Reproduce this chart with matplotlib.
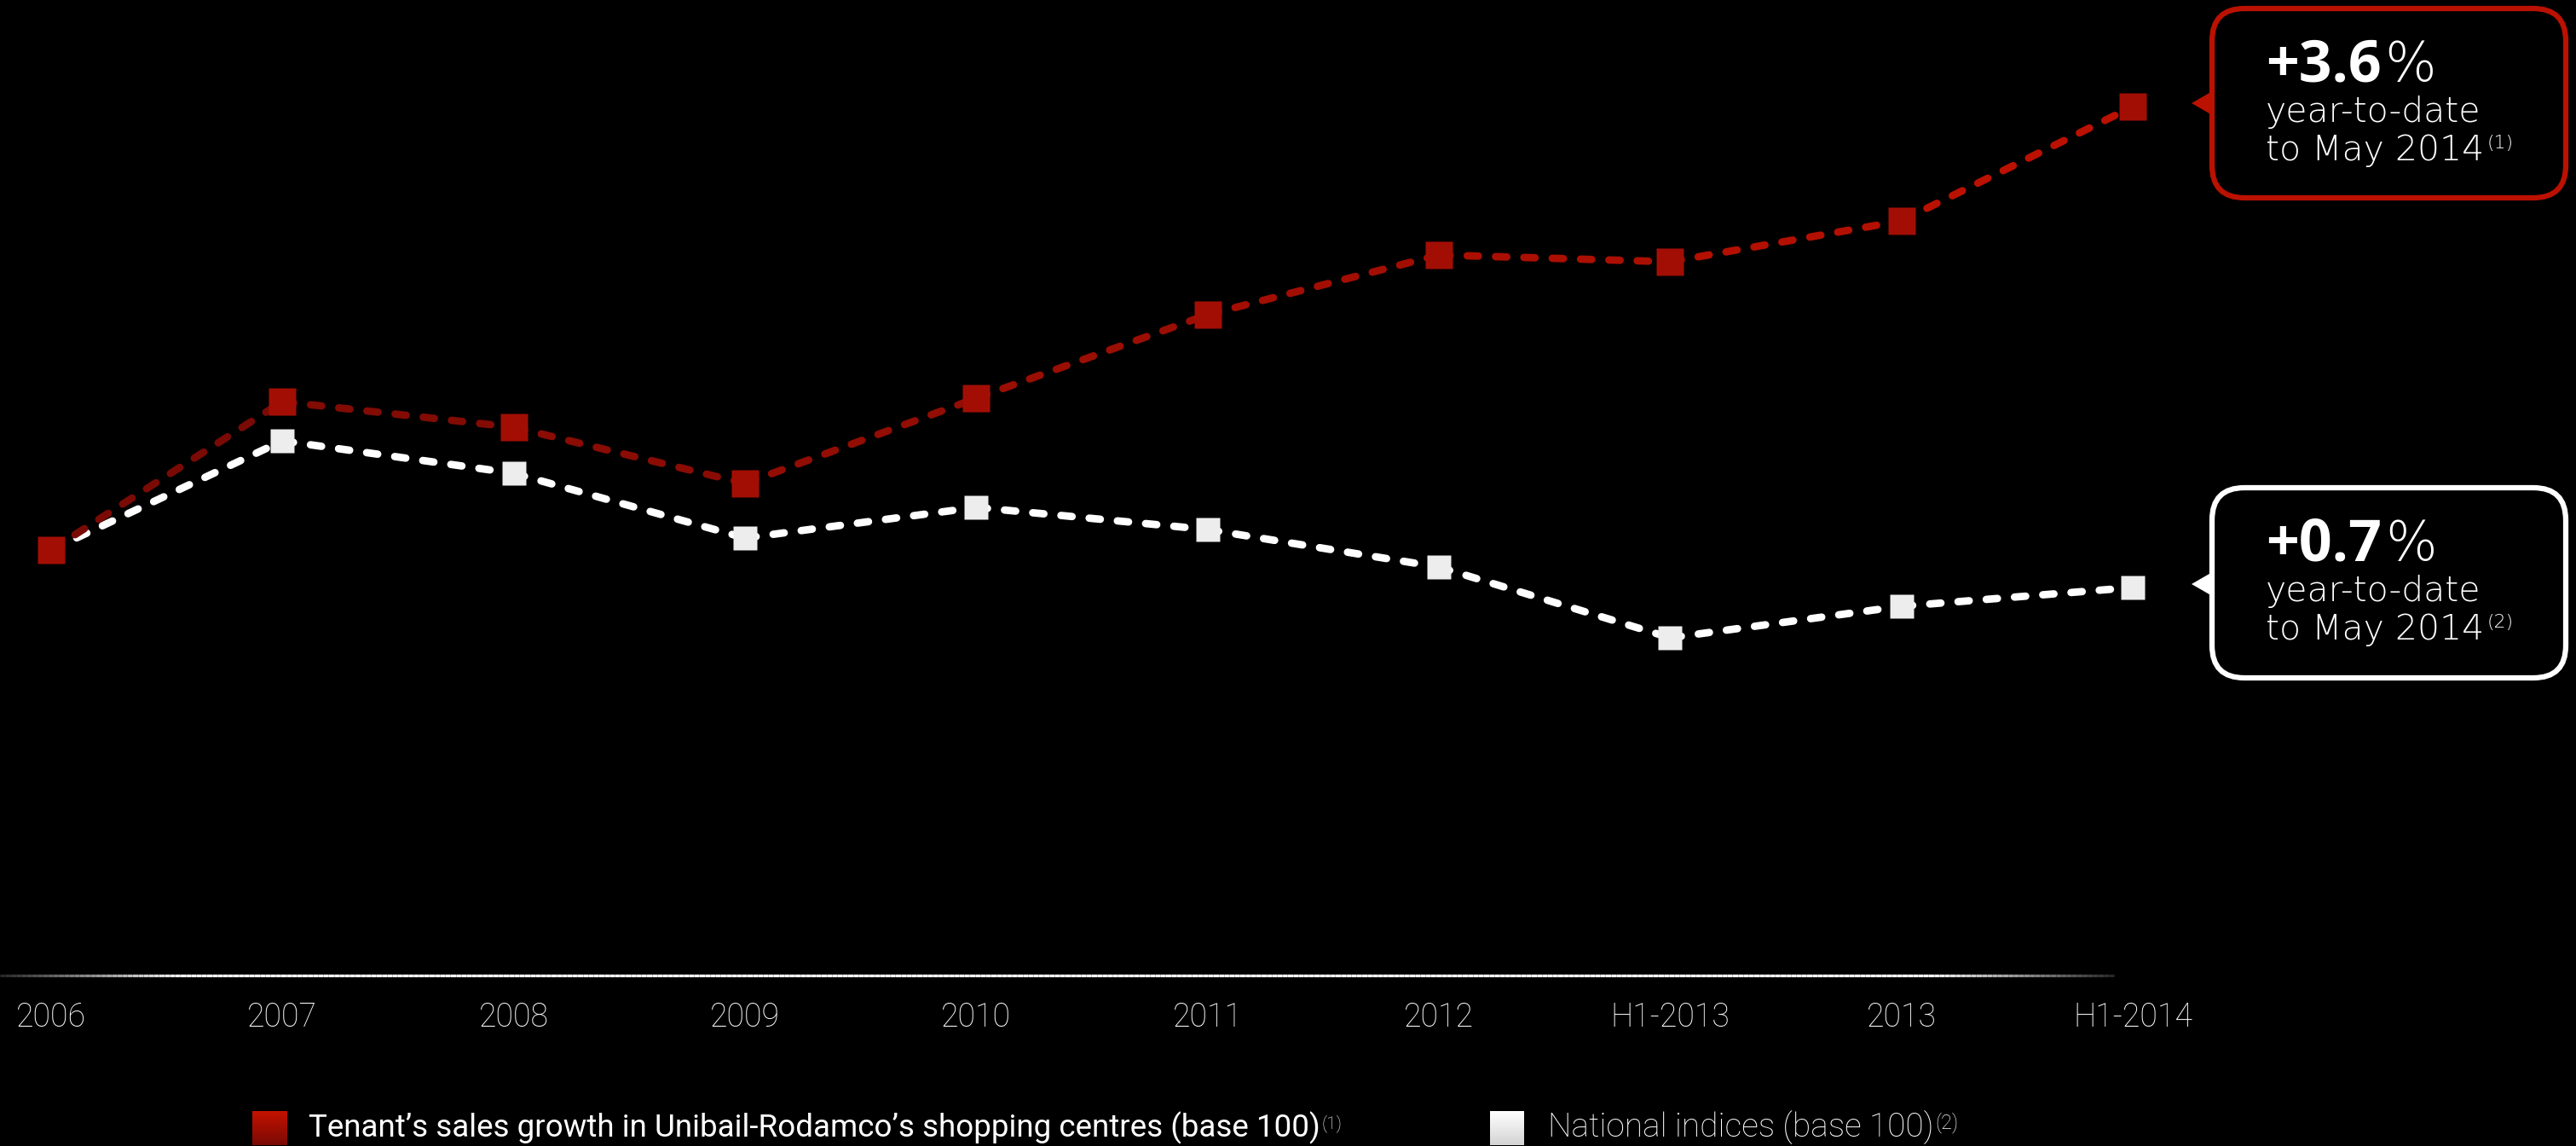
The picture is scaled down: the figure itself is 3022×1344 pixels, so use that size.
import numpy as np
import matplotlib.pyplot as plt
import matplotlib.transforms as mtransforms
from matplotlib.collections import LineCollection
from matplotlib.patches import FancyBboxPatch, Polygon
from matplotlib.colors import to_rgb
from matplotlib import font_manager

W, H = 3022, 1344

periods = ["2006", "2007", "2008", "2009", "2010", "2011", "2012",
           "H1-2013", "2013", "H1-2014"]
tenant_sales = [100.0, 108.7, 107.2, 103.9, 108.9, 113.8, 117.3, 116.9, 119.3, 126.0]
national_idx = [100.0, 106.4, 104.5, 100.7, 102.5, 101.2, 99.0, 94.85, 96.7, 97.8]
ytd_values = ["+3.6", "+0.7"]
ytd_notes = ["(1)", "(2)"]
legend_labels = ["Tenant\u2019s sales growth in Unibail-Rodamco\u2019s shopping centres (base 100)",
                 "National indices (base 100)"]

RED_DARK = "#7A0A05"
RED = "#BB1100"
THIN = ["Roboto", "DejaVu Sans"]

print(sorted({(f.name, f.weight, f.stretch) for f in font_manager.fontManager.ttflist
              if "DejaVu" in f.name or "Open" in f.name or "Liberation" in f.name}))

fig = plt.figure(figsize=(W / 100, H / 100), dpi=100, facecolor="black")
ax = fig.add_axes([0, 200 / H, 1, 1144 / H])
ax.set_facecolor("black")
for s in ax.spines.values():
    s.set_visible(False)
ax.set_yticks([])
ax.set_xlim(-0.221, 10.916)
ax.set_ylim(75.05, 132.25)

x = np.arange(len(periods))
ax.set_xticks(x)
ax.set_xticklabels(periods, color="white", fontsize=27, family=THIN, fontweight="light")
ax.tick_params(axis="x", length=0, pad=22)

# dashed lines, colour shifts slightly along the red series
c0, c1 = np.array(to_rgb(RED_DARK)), np.array(to_rgb(RED))
n = len(x) - 1
for i in range(n):
    col = c0 + (c1 - c0) * (i / (n - 1))
    ax.plot(x[i:i + 2], national_idx[i:i + 2], color="white", lw=6.3,
            dashes=(1.5, 2.3), dash_capstyle="round", zorder=2)
    ax.plot(x[i:i + 2], tenant_sales[i:i + 2], color=col, lw=6.3,
            dashes=(1.5, 2.3), dash_capstyle="round", zorder=4)
ax.plot(x, national_idx, ls="none", marker="s", ms=20, mfc="#EDEDED", mec="none", zorder=3)
ax.plot(x, tenant_sales, ls="none", marker="s", ms=23, mfc="#A30E04", mec="none", zorder=5)

ident = mtransforms.IdentityTransform()

# axis line fading at both ends
xs = np.linspace(0, 2480, 400)
segs = [[(xs[i], H - 1144), (xs[i + 1], H - 1144)] for i in range(len(xs) - 1)]
mid = (xs[:-1] + xs[1:]) / 2
b = np.clip(np.minimum(mid / 220, (2480 - mid) / 220), 0, 1)
b = 0.15 + 0.85 * b
ax.add_collection(LineCollection(segs, colors=[(v, v, v) for v in b], linewidths=2.3,
                                 transform=ident, clip_on=False))

fig.canvas.draw()
renderer = fig.canvas.get_renderer()


def after(t, s, dy, gap=2, **kw):
    bb = t.get_window_extent(renderer)
    x0, y0 = t.get_position()
    return fig.text(bb.x1 + gap, y0 + dy, s, transform=ident, va="baseline", **kw)


# callouts
boxes = [(tenant_sales, RED, 10, 232), (national_idx, "white", 572, 795)]
for k, (series, col, top, bot) in enumerate(boxes):
    px, py = ax.transData.transform((x[-1], series[-1]))
    left, right = 2595, 3010
    fig.patches.append(FancyBboxPatch((left, H - bot), right - left, bot - top,
                                      boxstyle="round,pad=0,rounding_size=38",
                                      fc="black", ec=col, lw=4.5, transform=ident))
    fig.patches.append(Polygon([(2571, py + 4), (left + 2, py + 19), (left + 2, py - 11)],
                               closed=True, fc=col, ec="none", transform=ident))
    base = H - (top + 85)
    t = fig.text(2658, base, ytd_values[k], transform=ident, va="baseline",
                 color="white", fontsize=49, fontweight="bold", family="Open Sans")
    after(t, "%", 0, gap=4, color="white", fontsize=46, family="DejaVu Sans",
          fontweight="light")
    fig.text(2658, base - 48, "year-to-date", transform=ident, va="baseline",
             color="white", fontsize=29.5, family="DejaVu Sans", fontweight="light")
    t2 = fig.text(2658, base - 93, "to May 2014", transform=ident, va="baseline",
                  color="white", fontsize=29.5, family="DejaVu Sans", fontweight="light")
    after(t2, ytd_notes[k], 14, gap=3, color="white", fontsize=16, family="DejaVu Sans",
          fontweight="light")


# legend with gradient squares
def grad_square(x0, top, c_top, c_bot):
    sq = fig.add_axes([x0 / W, (H - top - 40) / H, 40 / W, 40 / H])
    g = np.linspace(0, 1, 50)[:, None, None]
    img = np.array(to_rgb(c_top)) * (1 - g) + np.array(to_rgb(c_bot)) * g
    sq.imshow(img, aspect="auto", extent=(0, 1, 0, 1))
    sq.axis("off")


grad_square(296, 1303, "#C41200", RED_DARK)
grad_square(1748, 1303, "#FFFFFF", "#D4D4D4")
lt = fig.text(362, H - 1333, legend_labels[0], transform=ident, va="baseline",
              color="white", fontsize=26.5, family=THIN)
after(lt, ytd_notes[0], 10, color="white", fontsize=15, family=THIN, fontweight="light")
lt2 = fig.text(1816, H - 1333, legend_labels[1], transform=ident, va="baseline",
               color="white", fontsize=28, family=THIN, fontweight="light")
after(lt2, ytd_notes[1], 10, color="white", fontsize=17, family=THIN, fontweight="light")

fig.savefig("out.png", dpi=100, facecolor="black")
